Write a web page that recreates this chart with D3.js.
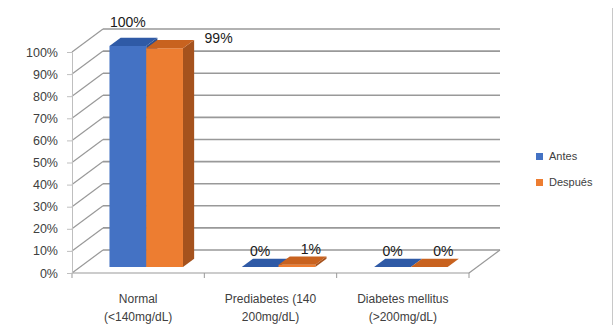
<!DOCTYPE html>
<html>
<head>
<meta charset="utf-8">
<script src="https://d3js.org/d3.v7.min.js"></script>
<style>
body { margin: 0; background: #fff; }
svg { display: block; font-family: "Liberation Sans", Arial, sans-serif; }
</style>
</head>
<body>
<svg id="chart" width="615" height="325"></svg>
<script>
// data
var categories = ["Normal\n(<140mg/dL)", "Prediabetes (140\n200mg/dL)", "Diabetes mellitus\n(>200mg/dL)"];
var seriesNames = ["Antes", "Después"];
var antes = [1.00, 0.00, 0.00];
var despues = [0.99, 0.01, 0.00];
var valueLabels = [["100%", "0%", "0%"], ["99%", "1%", "0%"]];
var yTicks = [0, 0.1, 0.2, 0.3, 0.4, 0.5, 0.6, 0.7, 0.8, 0.9, 1.0];

var colors = {
  Antes:   {front: "#4472C4", top: "#2F5AA6", side: "#2C4F8E"},
  "Después": {front: "#ED7D31", top: "#C8621F", side: "#A5521D"}
};

var svg = d3.select("#chart");

// 3d layout: front plane + depth offset
var depthX = 31, depthY = -23;
function shift(p, d) { return [p[0] + depthX * d, p[1] + depthY * d]; }

var x = d3.scaleBand().domain(categories).range([72, 469]);
var xs = d3.scaleBand().domain(seriesNames).range([0, x.bandwidth()]).paddingOuter(0.8);
var y = d3.scaleLinear().domain([0, 1]).range([273, 52]);

var gridColor = "#999999";
var g = svg.append("g");

// back wall gridlines + left wall diagonals
yTicks.forEach(function(t) {
  var a = [72, y(t)], b = shift(a, 1);
  g.append("line").attr("x1", a[0]).attr("y1", a[1]).attr("x2", b[0]).attr("y2", b[1])
    .attr("stroke", gridColor).attr("stroke-width", 1.2);
  g.append("line").attr("x1", b[0]).attr("y1", b[1]).attr("x2", 469 + depthX).attr("y2", b[1])
    .attr("stroke", gridColor).attr("stroke-width", 1.6);
});

// floor edges
var fr = [469, y(0)];
var br = shift(fr, 1);
g.append("line").attr("x1", 72).attr("y1", y(0)).attr("x2", fr[0]).attr("y2", fr[1])
  .attr("stroke", gridColor).attr("stroke-width", 1.2);
g.append("line").attr("x1", fr[0]).attr("y1", fr[1]).attr("x2", br[0]).attr("y2", br[1])
  .attr("stroke", gridColor).attr("stroke-width", 1.2);

// category boundary ticks
categories.forEach(function(c, i) {
  var xx = x(c);
  g.append("line").attr("x1", xx).attr("x2", xx).attr("y1", y(0)).attr("y2", y(0) + 5).attr("stroke", gridColor);
  if (i === categories.length - 1) {
    g.append("line").attr("x1", xx + x.bandwidth()).attr("x2", xx + x.bandwidth())
      .attr("y1", y(0)).attr("y2", y(0) + 5).attr("stroke", gridColor);
  }
});

// y axis
var yAxis = svg.append("g").attr("transform", "translate(72,0)")
  .call(d3.axisLeft(y).tickValues(yTicks).tickFormat(d3.format(".0%")).tickSize(5).tickPadding(9));
yAxis.select(".domain").attr("stroke", "#bfbfbf");
yAxis.selectAll(".tick line").attr("stroke", "#bfbfbf");
yAxis.selectAll(".tick text").attr("font-size", "12.5px").attr("fill", "#404040")
  .attr("font-family", "Liberation Sans, Arial, sans-serif");

// bars
var dFront = 0.26, dBack = 0.62;
var seriesData = [antes, despues];
function poly(pts) { return "M" + pts.map(function(p) { return p.join(","); }).join("L") + "Z"; }

var barsG = svg.append("g");
seriesData.forEach(function(vals, si) {
  var s = seriesNames[si];
  vals.forEach(function(v, ci) {
    var x0 = x(categories[ci]) + xs(s), x1 = x0 + xs.bandwidth();
    var fl = shift([x0, y(v)], dFront), fr2 = shift([x1, y(v)], dFront);
    var bl0 = shift([x0, y(0)], dFront), br0 = shift([x1, y(0)], dFront);
    var tl = shift([x0, y(v)], dBack), tr = shift([x1, y(v)], dBack), trb = shift([x1, y(0)], dBack);
    // side
    barsG.append("path").attr("d", poly([fr2, tr, trb, br0])).attr("fill", colors[s].side);
    // front
    barsG.append("path").attr("d", poly([fl, fr2, br0, bl0])).attr("fill", colors[s].front);
    // top
    barsG.append("path").attr("d", poly([fl, fr2, tr, tl])).attr("fill", colors[s].top);
  });
});

// value labels
var labelNudge = [[[0, -8], [0, 0], [0, 0]], [[40, 6], [0, 0], [0, 0]]];
seriesData.forEach(function(vals, si) {
  var s = seriesNames[si];
  vals.forEach(function(v, ci) {
    var p = shift([x(categories[ci]) + xs(s) + xs.bandwidth() / 2, y(v)], dFront);
    var n = labelNudge[si][ci];
    svg.append("text")
      .attr("x", p[0] + (si === 1 ? 14 : 0) + n[0])
      .attr("y", p[1] - 11 + n[1])
      .attr("text-anchor", "middle")
      .attr("font-size", "14px")
      .attr("fill", "#1a1a1a")
      .text(valueLabels[si][ci]);
  });
});

// category labels
categories.forEach(function(c) {
  var t = svg.append("text").attr("text-anchor", "middle").attr("font-size", "12px").attr("fill", "#404040");
  c.split("\n").forEach(function(line, i) {
    t.append("tspan").attr("x", x(c) + x.bandwidth() / 2).attr("y", 303 + i * 18).text(line);
  });
});

// legend
var legend = svg.append("g").attr("transform", "translate(536,153)");
seriesNames.forEach(function(s, i) {
  legend.append("rect").attr("x", 0).attr("y", i * 26).attr("width", 7).attr("height", 7)
    .attr("fill", colors[s].front);
  legend.append("text").attr("x", 13).attr("y", i * 26 + 7).attr("font-size", "11px")
    .attr("fill", "#404040").text(s);
});

// right border of chart frame
svg.append("line").attr("x1", 612.5).attr("x2", 612.5).attr("y1", 8).attr("y2", 325)
  .attr("stroke", "#c8c8c8");
</script>
</body>
</html>
